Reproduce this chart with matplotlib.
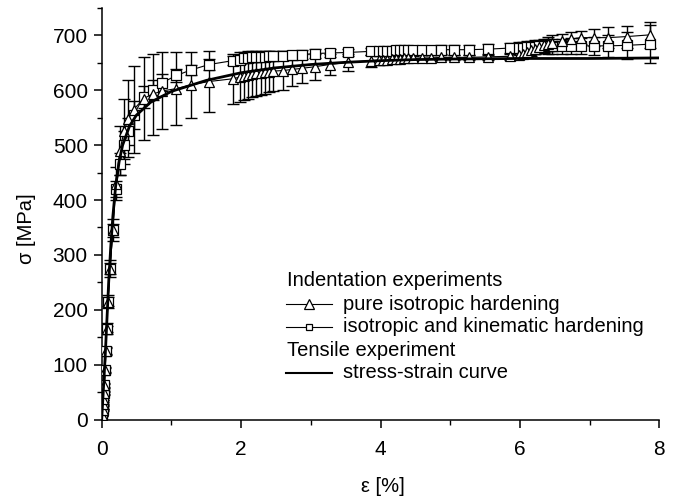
import matplotlib
matplotlib.use("Agg")
import matplotlib.pyplot as plt
from matplotlib.lines import Line2D
from matplotlib.ticker import MultipleLocator

plt.rcParams['font.family'] = ['Liberation Sans', 'DejaVu Sans']

# ---------------- data ----------------
strain_ind = [0.01, 0.015, 0.02, 0.025, 0.03, 0.04, 0.05, 0.06, 0.07, 0.09, 0.12, 0.16,
              0.2, 0.26, 0.32, 0.38, 0.46,
              0.6, 0.73, 0.87, 1.07, 1.28, 1.54, 1.88,
              1.98, 2.04, 2.1, 2.16, 2.22, 2.28, 2.34, 2.4, 2.46,
              2.6, 2.73, 2.87, 3.06, 3.27, 3.54, 3.86,
              3.98, 4.04, 4.1, 4.16, 4.22, 4.28, 4.34, 4.4, 4.46,
              4.6, 4.73, 4.87, 5.06, 5.27, 5.54, 5.86,
              5.98, 6.04, 6.1, 6.16, 6.22, 6.28, 6.34, 6.4, 6.46,
              6.6, 6.73, 6.87, 7.06, 7.27, 7.54, 7.86]

sigma_kin = [8, 18, 28, 38, 48, 62, 90, 125, 165, 215, 275, 345,
             420, 465, 500, 525, 555,
             588, 601, 614, 627, 637, 647, 654,
             656, 658, 659, 660, 660, 661, 661, 662, 662,
             663, 664, 665, 667, 668, 669, 671,
             671, 672, 672, 672, 673, 673, 673, 673, 673,
             673, 673, 674, 674, 674, 675, 677,
             678, 678, 679, 679, 679, 680, 680, 680, 680,
             680, 681, 681, 681, 681, 682, 684]
err_kin = [1, 1, 1, 2, 2, 3, 4, 5, 6, 8, 10, 12,
           15, 20, 25, 25, 25,
           20, 18, 15, 12, 10, 10, 8,
           8, 8, 8, 8, 8, 8, 8, 8, 8,
           8, 8, 8, 8, 8, 7, 7,
           7, 7, 7, 7, 7, 7, 7, 7, 7,
           8, 8, 8, 9, 9, 10, 10,
           10, 10, 11, 11, 12, 12, 12, 13, 13,
           13, 14, 15, 17, 20, 25, 35]

sigma_iso = [8, 18, 28, 38, 48, 62, 90, 125, 165, 215, 275, 345,
             430, 490, 525, 548, 565,
             585, 593, 599, 603, 610, 616, 621,
             624, 626, 628, 630, 631, 632, 633, 634, 635,
             636, 638, 640, 643, 647, 651, 654,
             655, 656, 656, 657, 657, 657, 658, 658, 658,
             659, 659, 660, 660, 660, 661, 662,
             664, 667, 670, 673, 676, 679, 682, 684, 686,
             689, 693, 696, 696, 696, 698, 701]
err_iso = [2, 2, 3, 3, 4, 5, 6, 8, 10, 12, 15, 20,
           30, 45, 60, 70, 80,
           75, 74, 70, 66, 60, 55, 46,
           45, 44, 43, 42, 41, 40, 39, 38, 37,
           35, 31, 27, 24, 20, 16, 11,
           8, 7, 7, 6, 6, 5, 5, 5, 5,
           5, 5, 5, 5, 5, 5, 6,
           7, 8, 9, 10, 10, 11, 12, 13, 14,
           13, 13, 12, 16, 19, 20, 23]

strain_ten = [0, 0.02, 0.05, 0.08, 0.1, 0.13, 0.16, 0.2, 0.25, 0.3, 0.4, 0.5, 0.7,
              1.0, 1.5, 2.0, 2.5, 3.0, 3.5, 4.0, 4.5, 5.0, 6.0, 7.0, 8.0]
sigma_ten = [0, 45, 115, 195, 250, 315, 370, 425, 470, 500, 535, 555, 578,
             598, 618, 632, 641, 647, 651, 654, 656, 657, 658, 658, 659]

xticks = [0, 2, 4, 6, 8]
yticks = [0, 100, 200, 300, 400, 500, 600, 700]

# ---------------- figure ----------------
W, H = 682, 500
fig = plt.figure(figsize=(W / 100, H / 100), dpi=100)
ax = fig.add_axes([101.7 / W, 1 - 419.5 / H, (659.3 - 101.7) / W, (419.5 - 8) / H])

ebkw = dict(ecolor='black', elinewidth=1.0, capsize=4, capthick=1.0)
ax.errorbar(strain_ind, sigma_iso, yerr=err_iso, fmt='none', zorder=2, **ebkw)
ax.errorbar(strain_ind, sigma_kin, yerr=err_kin, fmt='none', zorder=2, **ebkw)

ax.plot(strain_ind, sigma_kin, '-', color='black', lw=0.8,
        marker='s', ms=6.5, mfc='white', mec='black', mew=0.9, zorder=3)
ax.plot(strain_ind, sigma_iso, '-', color='black', lw=0.8,
        marker='^', ms=7.5, mfc='white', mec='black', mew=0.9, zorder=4)
ax.plot(strain_ten, sigma_ten, '-', color='black', lw=2.0, zorder=5)

ax.set_xlim(0, 8)
ax.set_ylim(0, 750)
ax.set_xticks(xticks)
ax.set_yticks(yticks)
ax.xaxis.set_minor_locator(MultipleLocator(1))
ax.yaxis.set_minor_locator(MultipleLocator(50))

for s in ['top', 'right']:
    ax.spines[s].set_visible(False)
for s in ['left', 'bottom']:
    ax.spines[s].set_linewidth(1.1)

ax.tick_params(axis='both', which='major', direction='out', length=6, width=1.1,
               labelsize=15)
ax.tick_params(axis='both', which='minor', direction='out', length=3.5, width=1.0)
ax.tick_params(axis='x', which='major', pad=9)
ax.tick_params(axis='y', which='major', pad=4)

fig.text(27 / W, 1 - 229 / H, 'σ [MPa]', rotation=90, ha='center', va='center', fontsize=14.5)
fig.text(383 / W, 1 - 487 / H, 'ε [%]', ha='center', va='center', fontsize=14.5)

# ---------------- legend (manual) ----------------
rows = [281, 304, 327, 350, 373]
x_line0, x_line1, x_text = 286, 332, 343
fs = 14.5
fig.text(287 / W, 1 - rows[0] / H, 'Indentation experiments', ha='left', va='center', fontsize=fs)
fig.text(287 / W, 1 - rows[3] / H, 'Tensile experiment', ha='left', va='center', fontsize=fs)
fig.text(x_text / W, 1 - rows[1] / H, 'pure isotropic hardening', ha='left', va='center', fontsize=fs)
fig.text(x_text / W, 1 - rows[2] / H, 'isotropic and kinematic hardening', ha='left', va='center', fontsize=fs)
fig.text(x_text / W, 1 - rows[4] / H, 'stress-strain curve', ha='left', va='center', fontsize=fs)

def leg_line(row, marker, ms, lw):
    y = 1 - row / H
    fig.add_artist(Line2D([x_line0 / W, x_line1 / W], [y, y], color='black', lw=lw,
                          transform=fig.transFigure))
    if marker:
        fig.add_artist(Line2D([(x_line0 + x_line1) / 2 / W], [y], marker=marker, ms=ms,
                              mfc='white', mec='black', mew=0.9, ls='none',
                              transform=fig.transFigure))

leg_line(rows[1], '^', 7.5, 0.8)
leg_line(rows[2], 's', 5, 0.8)
leg_line(rows[4], None, 0, 1.5)

fig.savefig('out.png', dpi=100)
